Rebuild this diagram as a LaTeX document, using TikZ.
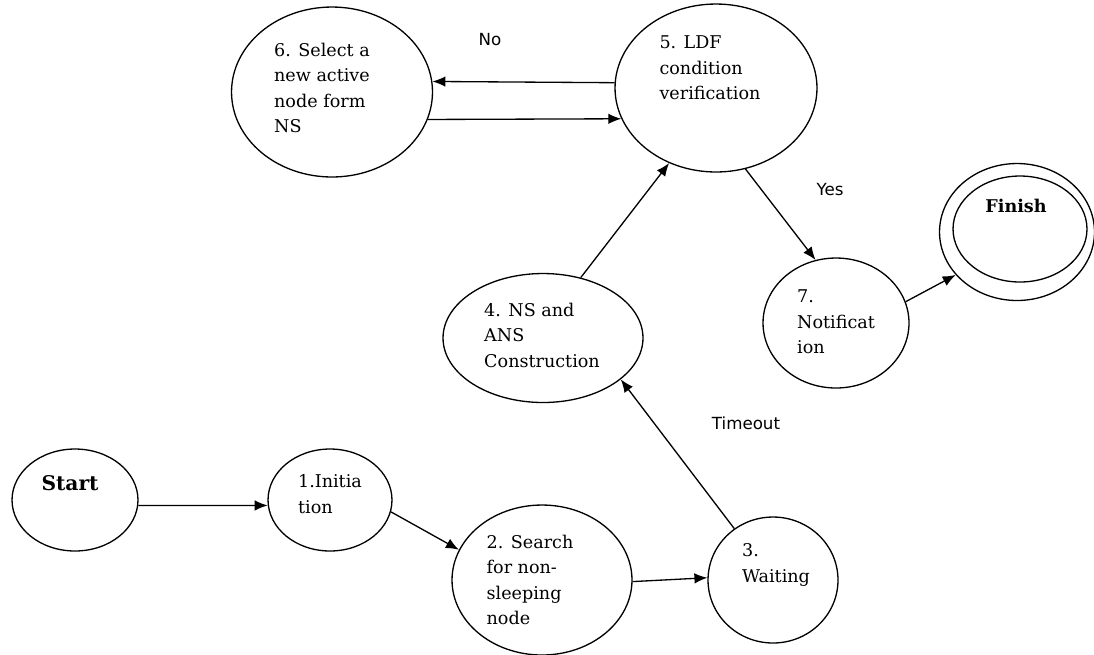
\documentclass[tikz,border=0pt]{standalone}
\usepackage{fontspec}
\setmainfont{DejaVu Serif}
\newfontfamily\lblfont{DejaVu Sans}
\usetikzlibrary{positioning,arrows.meta,shapes.geometric}

\begin{document}
\begin{tikzpicture}[
  x=0.02cm, y=-0.02cm,
  state/.style = {
    ellipse, draw, line width=0.75pt,
    inner sep=0pt, minimum width=#1
  },
  txt/.style = {
    align=left, inner sep=0pt,
    font=\fontsize{10}{14.5}\selectfont
  },
  bold/.style = {
    inner sep=0pt, font=\bfseries
  },
  lbl/.style = {
    inner sep=0pt, font=\lblfont\fontsize{9.5}{11}\selectfont
  },
  tr/.style = {-{Latex[length=2.6mm,width=2.1mm]}, line width=0.75pt}
]
\useasboundingbox (0,0) rectangle (1094,654);

%% ---------- States ----------
\node[state=2.52cm, minimum height=2.04cm] (start)  at (75,500)  {};
\node[state=2.48cm, minimum height=2.04cm] (init)   at (330,500) {};
\node[state=3.6cm,  minimum height=3.0cm]  (search) at (542,580) {};
\node[state=2.6cm,  minimum height=2.52cm] (wait)   at (773,580) {};
\node[state=4.0cm,  minimum height=2.58cm] (ans)    at (543,338) {};
\node[state=4.04cm, minimum height=3.36cm] (ldf)    at (716,88)  {};
\node[state=4.02cm, minimum height=3.4cm]  (sel)    at (332,92)  {};
\node[state=2.92cm, minimum height=2.6cm]  (notif)  at (836,323) {};
\node[state=3.1cm,  minimum height=2.74cm] (finish) at (1017,232) {};
\node[state=2.68cm, minimum height=2.12cm] (finin)  at (1020,229) {};

%% ---------- Texts ----------
\node[bold, font=\bfseries\fontsize{11.5}{14}\selectfont] (tstart) at (70,483) {Start};
\node[txt] (tinit)   at (330,494) {1.Initia\\tion};
\node[txt] (tsearch) at (530,580) {2. Search\\for non-\\sleeping\\node};
\node[txt] (twait)   at (776,565) {3.\\Waiting};
\node[txt] (tans)    at (542,335) {4. NS and\\ANS\\Construction};
\node[txt] (tldf)    at (710,68)  {5. LDF\\condition\\verification};
\node[txt] (tsel)    at (322,88)  {6. Select a\\new active\\node form\\NS};
\node[txt] (tnotif)  at (836,322) {7.\\Notificat\\ion};
\node[bold, font=\bfseries\fontsize{10}{12}\selectfont] (tfin) at (1016,206) {Finish};

%% ---------- Transitions ----------
\draw[tr] (start.-5)  -- (init.185);
\draw[tr] (init.-11)  -- (search.160);
\draw[tr] (search.-1) -- (wait.178);
\draw[tr] (wait.127)  -- (ans.-28);
\draw[tr] (ans.58)    -- (ldf.238);
\draw[tr] (ldf.177)   -- (sel.6);
\draw[tr] (sel.-16)   -- (ldf.198);
\draw[tr] (ldf.-70)   -- (notif.108);
\draw[tr] (notif.17)  -- (finish.215);

% edge labels
\node[lbl] (lno)  at (490,40)  {No};
\node[lbl] (lyes) at (830,190) {Yes};
\node[lbl] (lto)  at (746,423) {Timeout};

\end{tikzpicture}
\end{document}
